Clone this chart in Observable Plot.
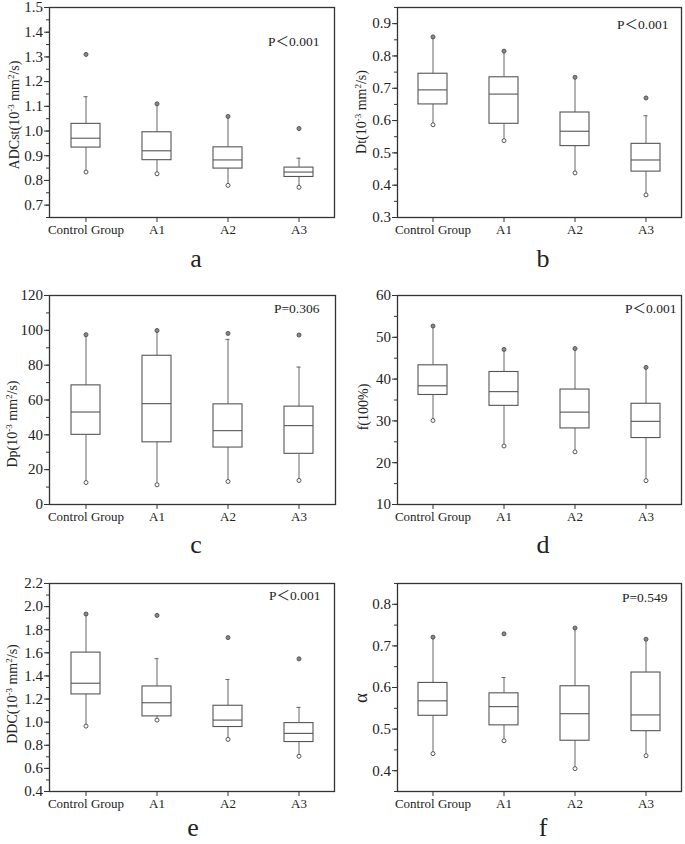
<!DOCTYPE html>
<html>
<head>
<meta charset="utf-8">
<script src="https://cdn.jsdelivr.net/npm/d3@7"></script>
<script src="https://cdn.jsdelivr.net/npm/@observablehq/plot@0.6"></script>
<style>
  body { margin: 0; background: #fff; }
  #root { position: relative; width: 685px; height: 844px; background: #fff; overflow: hidden;
          font-family: "Liberation Serif", "Times New Roman", serif; color: #222; }
  .panel { position: absolute; }
  .ytitle { position: absolute; white-space: nowrap; font-size: 14px; transform: translate(-50%, -50%) rotate(-90deg); }
  .ytitle sup { font-size: 9px; vertical-align: 5px; line-height: 0; }
  .ytitle.big { font-size: 19px; }
  .letter { position: absolute; font-size: 26px; transform: translate(-50%, 0); line-height: 1; }
</style>
</head>
<body>
<div id="root"></div>
<script>
const groups = ["Control Group", "A1", "A2", "A3"];

// a: ADCst
const adcMin = [0.834, 0.827, 0.780, 0.772];
const adcQ1  = [0.933, 0.882, 0.848, 0.814];
const adcMed = [0.971, 0.920, 0.883, 0.834];
const adcQ3  = [1.029, 0.995, 0.934, 0.852];
const adcWhi = [1.139, 1.110, 1.059, 0.890];
const adcMax = [1.310, 1.110, 1.059, 1.010];

// b: Dt
const dtMin = [0.587, 0.538, 0.438, 0.370];
const dtQ1  = [0.650, 0.590, 0.521, 0.442];
const dtMed = [0.695, 0.682, 0.567, 0.478];
const dtQ3  = [0.745, 0.734, 0.625, 0.528];
const dtWhi = [0.859, 0.815, 0.734, 0.615];
const dtMax = [0.859, 0.815, 0.734, 0.670];

// c: Dp
const dpMin = [12.6, 11.3, 13.2, 13.8];
const dpQ1  = [40.0, 35.7, 32.7, 29.1];
const dpMed = [53.1, 57.9, 42.4, 45.3];
const dpQ3  = [68.4, 85.4, 57.5, 56.2];
const dpWhi = [97.5, 99.9, 94.8, 78.9];
const dpMax = [97.5, 99.9, 98.2, 97.3];

// d: f
const fMin = [30.1, 24.0, 22.6, 15.7];
const fQ1  = [36.2, 33.6, 28.2, 25.9];
const fMed = [38.4, 37.0, 32.1, 29.9];
const fQ3  = [43.3, 41.7, 37.5, 34.1];
const fWhi = [52.7, 47.1, 47.3, 42.8];
const fMax = [52.7, 47.1, 47.3, 42.8];

// e: DDC
const ddcMin = [0.966, 1.018, 0.851, 0.705];
const ddcQ1  = [1.240, 1.050, 0.958, 0.828];
const ddcMed = [1.337, 1.168, 1.018, 0.903];
const ddcQ3  = [1.602, 1.309, 1.142, 0.992];
const ddcWhi = [1.936, 1.550, 1.369, 1.128];
const ddcMax = [1.936, 1.924, 1.732, 1.548];

// f: alpha
const alMin = [0.441, 0.472, 0.405, 0.436];
const alQ1  = [0.532, 0.509, 0.472, 0.495];
const alMed = [0.568, 0.554, 0.537, 0.534];
const alQ3  = [0.611, 0.586, 0.603, 0.636];
const alWhi = [0.721, 0.624, 0.743, 0.716];
const alMax = [0.721, 0.729, 0.743, 0.716];

const pTexts = ["P＜0.001", "P＜0.001", "P=0.306", "P＜0.001", "P＜0.001", "P=0.549"];
const letters = ["a", "b", "c", "d", "e", "f"];
const yTitles = [
  "ADCst(10<sup>-3</sup> mm<sup>2</sup>/s)",
  "Dt(10<sup>-3</sup> mm<sup>2</sup>/s)",
  "Dp(10<sup>-3</sup> mm<sup>2</sup>/s)",
  "f(100%)",
  "DDC(10<sup>-3</sup> mm<sup>2</sup>/s)",
  "α"
];

const yTicksA = d3.range(0.7, 1.5001, 0.1), yMinorA = d3.range(0.65, 1.5001, 0.05);
const yTicksB = d3.range(0.3, 0.9001, 0.1), yMinorB = d3.range(0.3, 0.9501, 0.05);
const yTicksC = d3.range(0, 120.01, 20),    yMinorC = d3.range(0, 120.01, 10);
const yTicksD = d3.range(10, 60.01, 10),    yMinorD = d3.range(10, 60.01, 5);
const yTicksE = d3.range(0.4, 2.2001, 0.2), yMinorE = d3.range(0.4, 2.2001, 0.1);
const yTicksF = d3.range(0.4, 0.8001, 0.1), yMinorF = d3.range(0.35, 0.8501, 0.05);

const root = document.getElementById("root");
const FONT = "'Liberation Serif', 'Times New Roman', 'Noto Sans CJK SC', serif";

function rows(mn, q1, md, q3, wh, mx) {
  return groups.map((g, i) => ({group: g, min: mn[i], q1: q1[i], med: md[i], q3: q3[i], whi: wh[i], max: mx[i]}));
}

function panel(cfg) {
  const data = rows(...cfg.stats);
  const caps = data.filter(d => d.max > d.whi);
  const plot = Plot.plot({
    width: cfg.w, height: cfg.h,
    marginLeft: cfg.mL, marginRight: cfg.mR, marginTop: cfg.mT, marginBottom: cfg.mB,
    style: {fontFamily: FONT, fontSize: "14px", color: "#222", background: "transparent", overflow: "visible"},
    x: {type: "band", domain: groups, padding: 0, label: null},
    y: {domain: cfg.domain, label: null},
    marks: [
      Plot.axisY({ticks: cfg.minor, tickSize: 3, tickFormat: () => "", stroke: "#333", label: null}),
      Plot.axisY({ticks: cfg.ticks, tickSize: 5, tickPadding: 1.5, tickFormat: cfg.fmt, stroke: "#333", fill: "#222", label: null}),
      Plot.axisX({tickSize: 5, tickPadding: 2, stroke: "#333", fill: "#222", label: null}),
      Plot.ruleX(data, {x: "group", y1: "min", y2: "q1", stroke: "#666", strokeWidth: 1}),
      Plot.ruleX(data, {x: "group", y1: "q3", y2: "whi", stroke: "#666", strokeWidth: 1}),
      Plot.tickY(caps, {x: "group", y: "whi", stroke: "#666", insetLeft: 33.5, insetRight: 33.5}),
      Plot.barY(data, {x: "group", y1: "q1", y2: "q3", fill: "white", stroke: "#555", strokeWidth: 1.1, insetLeft: 21, insetRight: 21}),
      Plot.tickY(data, {x: "group", y: "med", stroke: "#555", strokeWidth: 1.1, insetLeft: 21, insetRight: 21}),
      Plot.dot(data, {x: "group", y: "min", r: 2, fill: "white", stroke: "#555", strokeWidth: 1}),
      Plot.dot(data, {x: "group", y: "max", r: 2, fill: "#888", stroke: "#555", strokeWidth: 1}),
      Plot.text([cfg.p], {text: d => d, frameAnchor: "top-right", textAnchor: "end", lineAnchor: "middle",
        dx: cfg.pdx, dy: cfg.pdy, fontSize: 13.5, fill: "#222"}),
      Plot.frame({stroke: "#333", strokeWidth: 1.3})
    ]
  });
  // size tick labels: y tick labels larger than x tick labels, as in the reference
  plot.querySelectorAll('g[aria-label="y-axis tick label"]').forEach(g => g.style.fontSize = "15px");
  plot.querySelectorAll('g[aria-label="x-axis tick label"]').forEach(g => g.style.fontSize = "13px");
  const wrap = document.createElement("div");
  wrap.className = "panel";
  wrap.style.left = cfg.left + "px";
  wrap.style.top = cfg.top + "px";
  wrap.appendChild(plot);
  root.appendChild(wrap);

  const t = document.createElement("div");
  t.className = "ytitle" + (cfg.big ? " big" : "");
  t.innerHTML = cfg.title;
  t.style.left = cfg.tx + "px";
  t.style.top = cfg.ty + "px";
  root.appendChild(t);

  const l = document.createElement("div");
  l.className = "letter";
  l.textContent = cfg.letter;
  l.style.left = cfg.lx + "px";
  l.style.top = cfg.ly + "px";
  root.appendChild(l);
}

const f1 = d3.format(".1f"), f0 = d3.format("d");

panel({left: 0, top: 0, w: 342, h: 250, mL: 49, mR: 8, mT: 7, mB: 33,
  domain: [0.65, 1.5], ticks: yTicksA, minor: yMinorA, fmt: f1,
  stats: [adcMin, adcQ1, adcMed, adcQ3, adcWhi, adcMax],
  p: pTexts[0], pdx: -15, pdy: 34, title: yTitles[0], tx: 15, ty: 115, letter: letters[0], lx: 196, ly: 246});
panel({left: 342, top: 0, w: 343, h: 250, mL: 55, mR: 4, mT: 7, mB: 33,
  domain: [0.3, 0.95], ticks: yTicksB, minor: yMinorB, fmt: f1,
  stats: [dtMin, dtQ1, dtMed, dtQ3, dtWhi, dtMax],
  p: pTexts[1], pdx: -13, pdy: 17, title: yTitles[1], tx: 362, ty: 112, letter: letters[1], lx: 543, ly: 246});
panel({left: 0, top: 280, w: 342, h: 250, mL: 49, mR: 7, mT: 15, mB: 26,
  domain: [0, 120], ticks: yTicksC, minor: yMinorC, fmt: f0,
  stats: [dpMin, dpQ1, dpMed, dpQ3, dpWhi, dpMax],
  p: pTexts[2], pdx: -16, pdy: 13, title: yTitles[2], tx: 13, ty: 424, letter: letters[2], lx: 196, ly: 532});
panel({left: 342, top: 280, w: 343, h: 250, mL: 55, mR: 4, mT: 15, mB: 26,
  domain: [10, 60], ticks: yTicksD, minor: yMinorD, fmt: f0,
  stats: [fMin, fQ1, fMed, fQ3, fWhi, fMax],
  p: pTexts[3], pdx: -5, pdy: 13, title: yTitles[3], tx: 364, ty: 407, letter: letters[3], lx: 543, ly: 532});
panel({left: 0, top: 560, w: 342, h: 260, mL: 49, mR: 8, mT: 23, mB: 29,
  domain: [0.4, 2.2], ticks: yTicksE, minor: yMinorE, fmt: f1,
  stats: [ddcMin, ddcQ1, ddcMed, ddcQ3, ddcWhi, ddcMax],
  p: pTexts[4], pdx: -14, pdy: 12, title: yTitles[4], tx: 13, ty: 694, letter: letters[4], lx: 193, ly: 815});
panel({left: 342, top: 560, w: 343, h: 260, mL: 55, mR: 4, mT: 23, mB: 29,
  domain: [0.35, 0.85], ticks: yTicksF, minor: yMinorF, fmt: f1,
  stats: [alMin, alQ1, alMed, alQ3, alWhi, alMax],
  p: pTexts[5], pdx: -14, pdy: 14, title: yTitles[5], tx: 361, ty: 698, big: true, letter: letters[5], lx: 543, ly: 815});
</script>
</body>
</html>
